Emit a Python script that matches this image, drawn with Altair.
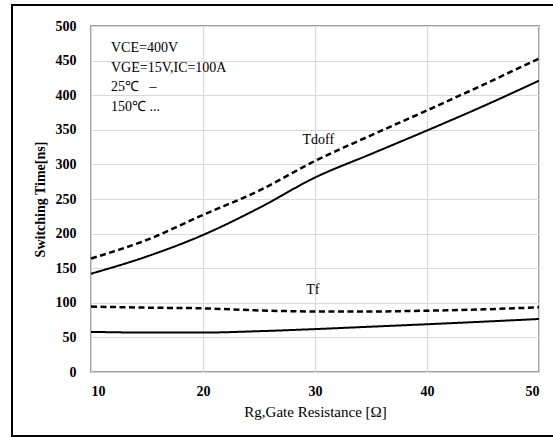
import altair as alt
import pandas as pd

# Gate resistance values (ohm)
rg = [10, 15, 20, 25, 30, 35, 40, 45, 50]

# Turn-off delay time (ns)
tdoff_25 = [142, 167, 198, 237, 281, 315, 349, 384, 421]
tdoff_150 = [164, 191, 227, 262, 305, 342, 378, 415, 453]

# Fall time (ns)
tf_25 = [58, 57, 57, 59, 62, 65.5, 69, 72.7, 76.6]
tf_150 = [94.5, 93, 92, 89, 87.5, 87.5, 88.6, 90.5, 93.5]

series = [
    ("Tdoff", "25℃", tdoff_25),
    ("Tdoff", "150℃", tdoff_150),
    ("Tf", "25℃", tf_25),
    ("Tf", "150℃", tf_150),
]
rows = []
for name, temp, vals in series:
    for r, v in zip(rg, vals):
        rows.append({"rg": r, "t": v, "curve": name + " " + temp, "temp": temp})
df = pd.DataFrame(rows)

# Curve name labels
label_names = ["Tdoff", "Tf"]
label_x = [30.3, 29.8]
label_y = [335, 118]
labels = pd.DataFrame({"rg": label_x, "t": label_y, "txt": label_names})

# Test conditions
cond_lines = ["VCE=400V", "VGE=15V,IC=100A", "25℃\u00a0\u00a0\u00a0–", "150℃ ..."]

# Axis ticks
x_ticks = [10, 20, 30, 40, 50]
y_ticks = [0, 50, 100, 150, 200, 250, 300, 350, 400, 450, 500]

FONT = "Liberation Serif"
W, H = 448, 346

x_scale = alt.Scale(domain=[10, 50], nice=False)
y_scale = alt.Scale(domain=[0, 500], nice=False)

x_axis = alt.Axis(title="Rg,Gate Resistance [Ω]", values=x_ticks,
                  labelFont=FONT, labelFontSize=14, labelFontWeight="bold",
                  labelColor="black", labelPadding=12, ticks=False, domain=False,
                  labelOverlap=False,
                  titleFont=FONT, titleFontSize=15, titleFontWeight="normal",
                  titleColor="black", titlePadding=6,
                  gridColor="#d9d9d9", gridWidth=1.2)
y_axis = alt.Axis(title="Switching Time[ns]", values=y_ticks,
                  labelFont=FONT, labelFontSize=14, labelFontWeight="bold",
                  labelColor="black", labelPadding=15, ticks=False, domain=False,
                  labelOverlap=False,
                  titleFont=FONT, titleFontSize=14, titleFontWeight="bold",
                  titleColor="black", titlePadding=8,
                  gridColor="#d9d9d9", gridWidth=1.2)

lines = alt.Chart(df).mark_line(interpolate="monotone", color="black").encode(
    x=alt.X("rg:Q", scale=x_scale, axis=x_axis),
    y=alt.Y("t:Q", scale=y_scale, axis=y_axis),
    detail="curve:N",
    strokeDash=alt.StrokeDash("temp:N", scale=alt.Scale(domain=["25℃", "150℃"],
                                                          range=[[1, 0], [6, 3.5]]),
                              legend=None),
    strokeWidth=alt.StrokeWidth("temp:N", scale=alt.Scale(domain=["25℃", "150℃"],
                                                            range=[2, 2.5]),
                                legend=None),
)

curve_labels = alt.Chart(labels).mark_text(font=FONT, fontSize=14, color="black").encode(
    x=alt.X("rg:Q", scale=x_scale, axis=x_axis),
    y=alt.Y("t:Q", scale=y_scale, axis=y_axis),
    text="txt:N")

conditions = alt.Chart(pd.DataFrame({"k": [0]})).mark_text(
    font=FONT, fontSize=14, color="black", align="left", baseline="middle",
    lineHeight=19.7, text=cond_lines
).encode(x=alt.value(20), y=alt.value(22))

# Outer frame around the whole figure
frame = alt.Chart(pd.DataFrame({"k": [0]})).mark_rect(
    fill=None, stroke="black", strokeWidth=2, clip=False
).encode(x=alt.value(-79), x2=alt.value(470), y=alt.value(-21), y2=alt.value(410))

chart = alt.layer(frame, lines, curve_labels, conditions).properties(
    width=W, height=H,
    autosize=alt.AutoSizeParams(type="none"),
    padding={"left": 91, "top": 26, "right": 14, "bottom": 65},
    background="white",
).configure_view(stroke="#7f7f7f", strokeWidth=1.5)

chart.save("out.html", embed_options={"renderer": "svg", "actions": False})
